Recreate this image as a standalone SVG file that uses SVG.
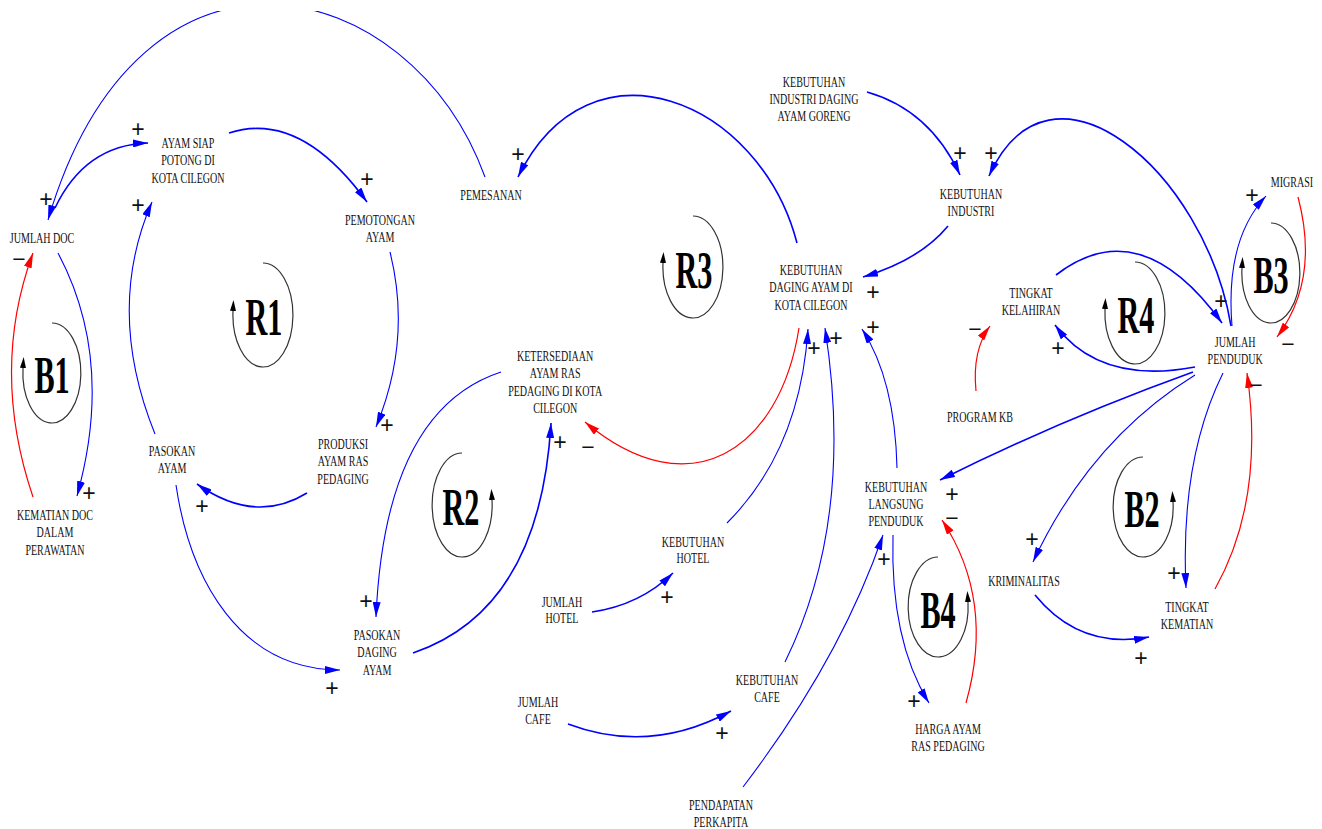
<svg xmlns="http://www.w3.org/2000/svg" width="1322" height="829" viewBox="0 0 1322 829">
<style>
.t{font-family:"Liberation Serif","Times New Roman",serif;font-size:15px;fill:#111;text-anchor:middle;transform-box:fill-box;transform-origin:center;transform:scaleX(0.67)}
.L{font-family:"Liberation Serif","Times New Roman",serif;font-weight:bold;font-size:52px;fill:#000;text-anchor:middle;transform-box:fill-box;transform-origin:center;transform:scaleX(0.58)}
.s{font-family:"Liberation Sans",Arial,sans-serif;font-size:23px;fill:#111;text-anchor:middle}
.b{fill:none;stroke:#0000ff;stroke-width:1.6;marker-end:url(#ab)}
.bt{fill:none;stroke:#0000ff;stroke-width:1.1;marker-end:url(#ab)}
.r{fill:none;stroke:#ff0000;stroke-width:1.2;marker-end:url(#ar)}
.lp{fill:none;stroke:#333;stroke-width:1.2;marker-end:url(#ak)}
</style>
<defs>
<marker id="ab" viewBox="0 0 15 8" refX="15" refY="4" markerWidth="15" markerHeight="8" markerUnits="userSpaceOnUse" orient="auto"><path d="M0,0 L15,4 L0,8 z" fill="#0000ff"/></marker>
<marker id="ar" viewBox="0 0 15 8" refX="15" refY="4" markerWidth="15" markerHeight="8" markerUnits="userSpaceOnUse" orient="auto"><path d="M0,0 L15,4 L0,8 z" fill="#ff0000"/></marker>
<marker id="ak" viewBox="0 0 11 6" refX="0" refY="3" markerWidth="11" markerHeight="6" markerUnits="userSpaceOnUse" orient="auto"><path d="M0,0 L11,3 L0,6 z" fill="#000"/></marker>
<clipPath id="clipTop"><rect x="0" y="11" width="1322" height="818"/></clipPath>
</defs>
<rect width="1322" height="829" fill="#fff"/>

<g id="connectors">
<path class="bt" clip-path="url(#clipTop)" d="M485,177 C410,-28 140,-92 48,220"/>
<path class="b" d="M55,208 Q85,145 148,143"/>
<path class="b" d="M229,133 Q300,110 367,202"/>
<path class="bt" d="M390,252 Q412,340 376,427"/>
<path class="b" d="M307,493 Q255,525 197,484"/>
<path class="bt" d="M155,434 Q105,310 152,202"/>
<path class="bt" d="M58,253 Q115,360 77,496"/>
<path class="r" d="M33,497 Q-10,370 33,253"/>
<path class="bt" d="M176,485 C190,580 240,670 340,670"/>
<path class="bt" d="M501,372 Q385,410 376,617"/>
<path class="b" d="M413,653 Q540,610 551,423"/>
<path class="r" d="M799,328 C780,450 690,510 585,422"/>
<path class="b" d="M797,243 C760,100 590,30 518,177"/>
<path class="b" d="M867,92 Q930,110 960,175"/>
<path class="b" d="M1231,326 C1205,170 1050,40 989,176"/>
<path class="b" d="M948,226 Q920,260 863,277"/>
<path class="bt" d="M1232,326 Q1225,240 1266,196"/>
<path class="r" d="M1298,197 Q1320,280 1277,337"/>
<path class="b" d="M1056,275 Q1140,210 1222,323"/>
<path class="b" d="M1195,367 Q1100,385 1055,325"/>
<path class="r" d="M976,391 Q972,350 990,326"/>
<path class="b" d="M1193,372 Q1060,420 940,480"/>
<path class="bt" d="M1195,375 Q1090,440 1033,562"/>
<path class="bt" d="M1223,373 Q1180,460 1186,588"/>
<path class="r" d="M1215,589 Q1265,500 1247,373"/>
<path class="b" d="M1035,595 Q1080,650 1149,637"/>
<path class="bt" d="M893,535 Q890,640 929,703"/>
<path class="r" d="M966,703 Q995,600 942,520"/>
<path class="bt" d="M743,787 Q840,660 883,535"/>
<path class="bt" d="M897,468 Q895,380 862,329"/>
<path class="bt" d="M785,662 Q855,520 825,328"/>
<path class="bt" d="M727,523 Q800,450 808,329"/>
<path class="b" d="M592,612 Q640,605 673,573"/>
<path class="b" d="M568,724 Q650,755 731,711"/>
</g>

<g id="polarity">
<text class="s" x="46" y="207">+</text>
<text class="s" x="138" y="137">+</text>
<text class="s" x="138" y="213">+</text>
<text class="s" x="367" y="187">+</text>
<text class="s" x="387" y="433">+</text>
<text class="s" x="202" y="514">+</text>
<text class="s" x="19" y="267">−</text>
<text class="s" x="89" y="501">+</text>
<text class="s" x="366" y="609">+</text>
<text class="s" x="332" y="696">+</text>
<text class="s" x="560" y="450">+</text>
<text class="s" x="588" y="455">−</text>
<text class="s" x="667" y="605">+</text>
<text class="s" x="722" y="741">+</text>
<text class="s" x="518" y="162">+</text>
<text class="s" x="873" y="300">+</text>
<text class="s" x="873" y="335">+</text>
<text class="s" x="814" y="356">+</text>
<text class="s" x="836" y="346">+</text>
<text class="s" x="960" y="161">+</text>
<text class="s" x="991" y="161">+</text>
<text class="s" x="1252" y="203">+</text>
<text class="s" x="1221" y="309">+</text>
<text class="s" x="1288" y="352">−</text>
<text class="s" x="1256" y="393">−</text>
<text class="s" x="1058" y="356">+</text>
<text class="s" x="975" y="337">−</text>
<text class="s" x="952" y="502">+</text>
<text class="s" x="952" y="526">−</text>
<text class="s" x="884" y="567">+</text>
<text class="s" x="1032" y="547">+</text>
<text class="s" x="1174" y="581">+</text>
<text class="s" x="1141" y="666">+</text>
<text class="s" x="914" y="709">+</text>
</g>

<g id="loop-R1"><path class="lp" d="M263,263 A30,52 0 1 1 233,311"/><text class="L" x="264" y="335">R1</text></g>
<g id="loop-B1"><path class="lp" d="M52,323 A29,50 0 1 1 23,368"/><text class="L" x="52" y="393">B1</text></g>
<g id="loop-R2"><path class="lp" d="M462,453 A30,52 0 1 0 492,500"/><text class="L" x="461" y="525">R2</text></g>
<g id="loop-R3"><path class="lp" d="M693,216 A30,51 0 1 1 663,263"/><text class="L" x="694" y="288">R3</text></g>
<g id="loop-R4"><path class="lp" d="M1135,262 A30,51 0 1 1 1105,309"/><text class="L" x="1136" y="333">R4</text></g>
<g id="loop-B3"><path class="lp" d="M1271,223 A29,50 0 1 1 1242,268"/><text class="L" x="1271" y="293">B3</text></g>
<g id="loop-B2"><path class="lp" d="M1143,457 A30,50 0 1 0 1173,502"/><text class="L" x="1142" y="527">B2</text></g>
<g id="loop-B4"><path class="lp" d="M938,557 A30,50 0 1 0 968,602"/><text class="L" x="938" y="628">B4</text></g>

<g id="n-jumlah-doc"><text class="t" x="42" y="243">JUMLAH DOC</text></g>
<g id="n-ayam-siap"><text class="t" x="188" y="148"><tspan x="188">AYAM SIAP</tspan><tspan x="188" dy="17.5">POTONG DI</tspan><tspan x="188" dy="17.5">KOTA CILEGON</tspan></text></g>
<g id="n-pemotongan"><text class="t" x="380" y="225"><tspan x="380">PEMOTONGAN</tspan><tspan x="380" dy="17.5">AYAM</tspan></text></g>
<g id="n-produksi"><text class="t" x="343" y="449"><tspan x="343">PRODUKSI</tspan><tspan x="343" dy="17.5">AYAM RAS</tspan><tspan x="343" dy="17.5">PEDAGING</tspan></text></g>
<g id="n-pasokan-ayam"><text class="t" x="172" y="456"><tspan x="172">PASOKAN</tspan><tspan x="172" dy="17.5">AYAM</tspan></text></g>
<g id="n-kematian-doc"><text class="t" x="55" y="520"><tspan x="55">KEMATIAN DOC</tspan><tspan x="55" dy="17.5">DALAM</tspan><tspan x="55" dy="17.5">PERAWATAN</tspan></text></g>
<g id="n-pasokan-daging"><text class="t" x="377" y="640"><tspan x="377">PASOKAN</tspan><tspan x="377" dy="17.5">DAGING</tspan><tspan x="377" dy="17.5">AYAM</tspan></text></g>
<g id="n-ketersediaan"><text class="t" x="555" y="361"><tspan x="555">KETERSEDIAAN</tspan><tspan x="555" dy="17.5">AYAM RAS</tspan><tspan x="555" dy="17.5">PEDAGING DI KOTA</tspan><tspan x="555" dy="17.5">CILEGON</tspan></text></g>
<g id="n-jumlah-hotel"><text class="t" x="562" y="607"><tspan x="562">JUMLAH</tspan><tspan x="562" dy="16.5">HOTEL</tspan></text></g>
<g id="n-kebutuhan-hotel"><text class="t" x="693" y="547"><tspan x="693">KEBUTUHAN</tspan><tspan x="693" dy="16.5">HOTEL</tspan></text></g>
<g id="n-jumlah-cafe"><text class="t" x="538" y="707"><tspan x="538">JUMLAH</tspan><tspan x="538" dy="17">CAFE</tspan></text></g>
<g id="n-kebutuhan-cafe"><text class="t" x="767" y="685"><tspan x="767">KEBUTUHAN</tspan><tspan x="767" dy="17">CAFE</tspan></text></g>
<g id="n-pendapatan"><text class="t" x="721" y="810"><tspan x="721">PENDAPATAN</tspan><tspan x="721" dy="17">PERKAPITA</tspan></text></g>
<g id="n-pemesanan"><text class="t" x="491" y="200">PEMESANAN</text></g>
<g id="n-keb-industri-goreng"><text class="t" x="814" y="87"><tspan x="814">KEBUTUHAN</tspan><tspan x="814" dy="17">INDUSTRI DAGING</tspan><tspan x="814" dy="17">AYAM GORENG</tspan></text></g>
<g id="n-keb-daging"><text class="t" x="811" y="275"><tspan x="811">KEBUTUHAN</tspan><tspan x="811" dy="17.5">DAGING AYAM DI</tspan><tspan x="811" dy="17.5">KOTA CILEGON</tspan></text></g>
<g id="n-keb-industri"><text class="t" x="971" y="199"><tspan x="971">KEBUTUHAN</tspan><tspan x="971" dy="17">INDUSTRI</tspan></text></g>
<g id="n-migrasi"><text class="t" x="1292" y="187">MIGRASI</text></g>
<g id="n-tingkat-kelahiran"><text class="t" x="1031" y="298"><tspan x="1031">TINGKAT</tspan><tspan x="1031" dy="17.5">KELAHIRAN</tspan></text></g>
<g id="n-jumlah-penduduk"><text class="t" x="1235" y="347"><tspan x="1235">JUMLAH</tspan><tspan x="1235" dy="17.5">PENDUDUK</tspan></text></g>
<g id="n-program-kb"><text class="t" x="980" y="422">PROGRAM KB</text></g>
<g id="n-keb-langsung"><text class="t" x="896" y="492"><tspan x="896">KEBUTUHAN</tspan><tspan x="896" dy="17">LANGSUNG</tspan><tspan x="896" dy="17.5">PENDUDUK</tspan></text></g>
<g id="n-kriminalitas"><text class="t" x="1024" y="586">KRIMINALITAS</text></g>
<g id="n-tingkat-kematian"><text class="t" x="1187" y="612"><tspan x="1187">TINGKAT</tspan><tspan x="1187" dy="17.5">KEMATIAN</tspan></text></g>
<g id="n-harga-ayam"><text class="t" x="948" y="734"><tspan x="948">HARGA AYAM</tspan><tspan x="948" dy="17.5">RAS PEDAGING</tspan></text></g>
</svg>
